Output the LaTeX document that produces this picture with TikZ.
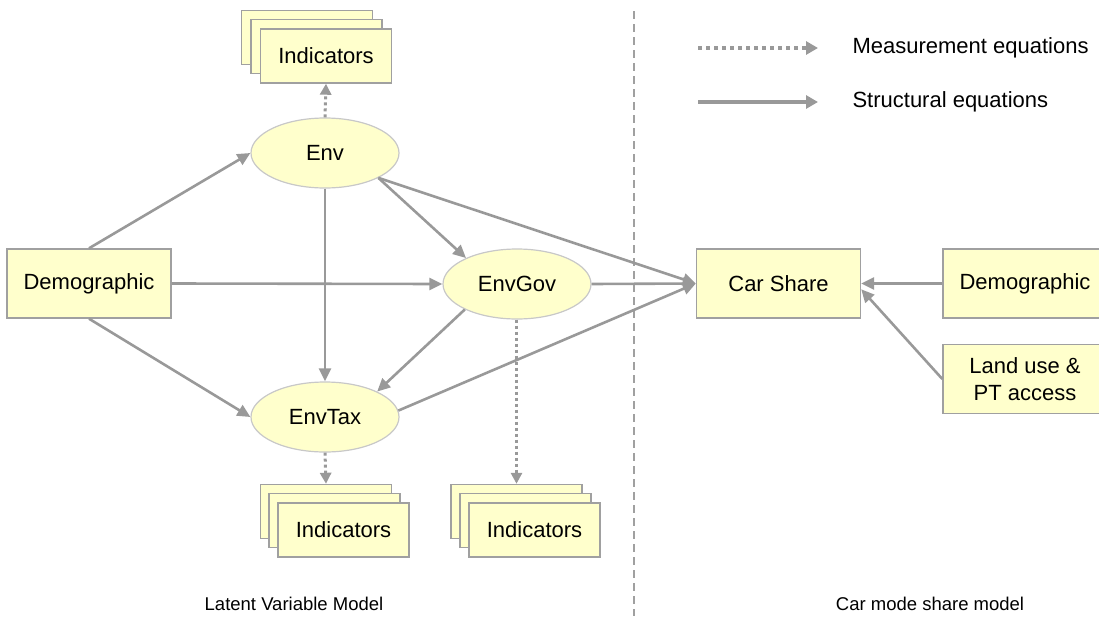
\documentclass[tikz,border=0pt]{standalone}
\usepackage{fontspec}
\setmainfont{Liberation Sans}
\usetikzlibrary{arrows.meta,shapes.geometric}
\definecolor{boxfill}{HTML}{FFFFCC}
\definecolor{boxline}{HTML}{A0A0A0}
\definecolor{ellline}{HTML}{C8C8C8}
\definecolor{arrowgray}{HTML}{999999}
\tikzset{
  x=1pt, y=-1pt,
  box/.style={rectangle, draw=boxline, line width=1.4pt, fill=boxfill,
    minimum width=164pt, minimum height=69pt, inner sep=0pt,
    font=\fontsize{22}{27}\selectfont, align=center},
  indbox/.style={box, minimum width=131pt, minimum height=54pt},
  latent/.style={ellipse, draw=ellline, line width=1.2pt, fill=boxfill,
    minimum width=148pt, minimum height=70pt, inner sep=0pt,
    font=\fontsize{22}{27}\selectfont},
  structural/.style={draw=arrowgray, line width=2.6pt,
    -{Triangle[length=13pt,width=12pt]}},
  measurement/.style={draw=arrowgray, line width=3pt,
    dash pattern=on 3pt off 3pt,
    -{Triangle[length=11pt,width=11pt]}},
  divider/.style={draw=boxline, line width=1.5pt, dash pattern=on 8pt off 5pt},
  legendtext/.style={anchor=west, font=\fontsize{22}{27}\selectfont},
  caption/.style={font=\fontsize{18.5}{22}\selectfont}
}
\begin{document}
\begin{tikzpicture}
\useasboundingbox (0,0) rectangle (1099,621);
\clip (0,0) rectangle (1099,621);

% divider between the two sub-models
\draw[divider] (634,11) -- (634,616);

% indicator stacks (back, middle, front)
\node[indbox] (indA3) at (307,37.5) {};
\node[indbox] (indA2) at (316.5,46.5) {};
\node[indbox] (indA1) at (326,56) {Indicators};

\node[indbox] (indB3) at (326,511.5) {};
\node[indbox] (indB2) at (334.5,520.5) {};
\node[indbox] (indB1) at (343.5,530) {Indicators};

\node[indbox] (indC3) at (516.5,511.5) {};
\node[indbox] (indC2) at (525.5,520.5) {};
\node[indbox] (indC1) at (534.5,530) {Indicators};

% latent variables
\node[latent] (env) at (325,153) {Env};
\node[latent] (envgov) at (517,284) {EnvGov};
\node[latent] (envtax) at (325,417) {EnvTax};

% observed variables
\node[box] (demoL) at (89,283.5) {Demographic};
\node[box] (car) at (778.5,283.5) {Car Share};
\node[box] (demoR) at (1025,283.5) {Demographic};
\node[box] (land) at (1025,379) {Land use \&\\PT access};

% measurement equations
\draw[measurement] (env.north) -- (indA1.south);
\draw[measurement] (envtax.south) -- (indB3.north);
\draw[measurement] (envgov.south -| indC3.north) -- (indC3.north);

% structural equations
\draw[structural] (demoL.north) -- (env.west);
\draw[structural] (demoL.east) -- (envgov.west);
\draw[structural] (demoL.south) -- (envtax.west);
\draw[structural] (env.south) -- (envtax.north);
\draw[structural] (env.-25) -- (envgov.153);
\draw[structural] (env.-25) -- (car.west);
\draw[structural] (envgov.206) -- (envtax.26);
\draw[structural] (envgov.east) -- (car.west);
\draw[structural] (envtax.5) -- (car.west);
\draw[structural] (demoR.west) -- (car.east);
\draw[structural] (land.west) -- (car.-4);

% legend
\coordinate (lgA0) at (698,48);
\coordinate (lgA1) at (818,48);
\coordinate (lgB0) at (698,102);
\coordinate (lgB1) at (818,102);
\draw[measurement, line width=4pt, dash pattern=on 4pt off 4pt,
  -{Triangle[length=12pt,width=13pt]}] (lgA0) -- (lgA1);
\draw[structural, line width=4pt,
  -{Triangle[length=12pt,width=13pt]}] (lgB0) -- (lgB1);
\node[legendtext] (lgAtext) at (849,48) {Measurement equations};
\node[legendtext] (lgBtext) at (849,102) {Structural equations};

% captions of the two sub-models
\node[caption] (capL) at (294,604) {Latent Variable Model};
\node[caption] (capR) at (930,604) {Car mode share model};
\end{tikzpicture}
\end{document}
